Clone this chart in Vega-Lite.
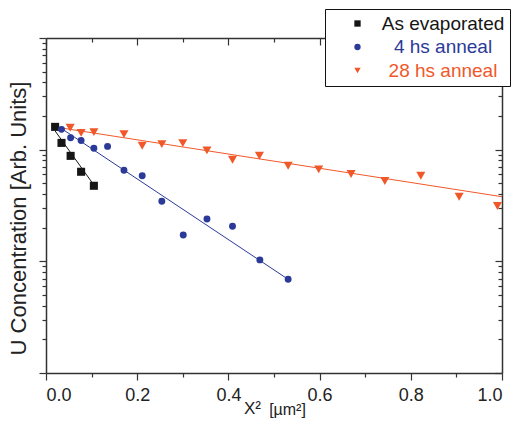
{
  "$schema": "https://vega.github.io/schema/vega-lite/v6.json",
  "width": 456,
  "height": 335,
  "autosize": {"type": "none"},
  "padding": {"left": 46, "top": 38, "right": 18, "bottom": 59},
  "background": "white",
  "config": {
    "view": {"stroke": null},
    "font": "Liberation Sans",
    "axis": {"grid": false, "domainColor": "#333333", "domainWidth": 1.5, "tickColor": "#333333", "tickWidth": 1.2, "labelFont": "Liberation Sans", "titleFont": "Liberation Sans", "labelColor": "#222222", "titleColor": "#222222", "titleFontWeight": "normal"}
  },
  "data": {
    "values": [
      {"series": "As evaporated", "kind": "pt", "x": 0.020, "y": 160},
      {"series": "As evaporated", "kind": "pt", "x": 0.034, "y": 115},
      {"series": "As evaporated", "kind": "pt", "x": 0.054, "y": 88},
      {"series": "As evaporated", "kind": "pt", "x": 0.077, "y": 63.4},
      {"series": "As evaporated", "kind": "pt", "x": 0.105, "y": 47.5},
      {"series": "As evaporated", "kind": "fit", "x": 0.020, "y": 147},
      {"series": "As evaporated", "kind": "fit", "x": 0.105, "y": 48.2},
      {"series": "4 hs anneal", "kind": "pt", "x": 0.034, "y": 152},
      {"series": "4 hs anneal", "kind": "pt", "x": 0.054, "y": 128},
      {"series": "4 hs anneal", "kind": "pt", "x": 0.077, "y": 121},
      {"series": "4 hs anneal", "kind": "pt", "x": 0.105, "y": 103},
      {"series": "4 hs anneal", "kind": "pt", "x": 0.135, "y": 107},
      {"series": "4 hs anneal", "kind": "pt", "x": 0.171, "y": 65.3},
      {"series": "4 hs anneal", "kind": "pt", "x": 0.211, "y": 58.4},
      {"series": "4 hs anneal", "kind": "pt", "x": 0.254, "y": 34.5},
      {"series": "4 hs anneal", "kind": "pt", "x": 0.301, "y": 17.2},
      {"series": "4 hs anneal", "kind": "pt", "x": 0.353, "y": 23.9},
      {"series": "4 hs anneal", "kind": "pt", "x": 0.409, "y": 20.6},
      {"series": "4 hs anneal", "kind": "pt", "x": 0.469, "y": 10.3},
      {"series": "4 hs anneal", "kind": "pt", "x": 0.531, "y": 6.9},
      {"series": "4 hs anneal", "kind": "fit", "x": 0.034, "y": 154.5},
      {"series": "4 hs anneal", "kind": "fit", "x": 0.531, "y": 6.9},
      {"series": "28 hs anneal", "kind": "pt", "x": 0.053, "y": 157},
      {"series": "28 hs anneal", "kind": "pt", "x": 0.077, "y": 141.6},
      {"series": "28 hs anneal", "kind": "pt", "x": 0.105, "y": 143.8},
      {"series": "28 hs anneal", "kind": "pt", "x": 0.171, "y": 138},
      {"series": "28 hs anneal", "kind": "pt", "x": 0.211, "y": 108.4},
      {"series": "28 hs anneal", "kind": "pt", "x": 0.254, "y": 112.2},
      {"series": "28 hs anneal", "kind": "pt", "x": 0.300, "y": 114.6},
      {"series": "28 hs anneal", "kind": "pt", "x": 0.353, "y": 98.6},
      {"series": "28 hs anneal", "kind": "pt", "x": 0.409, "y": 81.3},
      {"series": "28 hs anneal", "kind": "pt", "x": 0.468, "y": 88.2},
      {"series": "28 hs anneal", "kind": "pt", "x": 0.531, "y": 71.8},
      {"series": "28 hs anneal", "kind": "pt", "x": 0.598, "y": 66.6},
      {"series": "28 hs anneal", "kind": "pt", "x": 0.669, "y": 60.5},
      {"series": "28 hs anneal", "kind": "pt", "x": 0.743, "y": 52.4},
      {"series": "28 hs anneal", "kind": "pt", "x": 0.822, "y": 58.4},
      {"series": "28 hs anneal", "kind": "pt", "x": 0.906, "y": 37.9},
      {"series": "28 hs anneal", "kind": "pt", "x": 0.990, "y": 31.3},
      {"series": "28 hs anneal", "kind": "fit", "x": 0.031, "y": 157},
      {"series": "28 hs anneal", "kind": "fit", "x": 1.0, "y": 37.9}
    ]
  },
  "resolve": {"axis": {"x": "independent", "y": "independent"}},
  "layer": [
    {
      "transform": [{"filter": "datum.kind == 'fit'"}],
      "mark": {"type": "line", "strokeWidth": 1},
      "encoding": {
        "x": {"field": "x", "type": "quantitative", "scale": {"domain": [0, 1], "nice": false, "zero": false},
          "axis": {"orient": "bottom", "values": [0.1, 0.3, 0.5, 0.7, 0.9], "labels": false, "domain": false, "tickSize": 4, "title": "[µm²]", "titleFontSize": 16, "titleX": 241, "titleY": 41, "titleAlign": "center", "titleBaseline": "alphabetic"}},
        "y": {"field": "y", "type": "quantitative", "scale": {"type": "log", "domain": [1, 1000], "nice": false},
          "axis": {"orient": "left", "values": [2, 3, 4, 5, 6, 7, 8, 9, 20, 30, 40, 50, 60, 70, 80, 90, 200, 300, 400, 500, 600, 700, 800, 900], "labels": false, "domain": false, "tickSize": 4, "title": null}},
        "stroke": {"field": "series", "type": "nominal", "legend": null,
          "scale": {"domain": ["28 hs anneal", "As evaporated", "4 hs anneal"], "range": ["#f0582a", "#151515", "#2b3a98"]}},
        "detail": {"field": "series"}
      }
    },
    {
      "transform": [{"filter": "datum.kind == 'fit'"}],
      "mark": {"type": "point", "opacity": 0},
      "encoding": {
        "x": {"field": "x", "type": "quantitative",
          "axis": {"orient": "top", "ticks": false, "labels": false, "domain": true, "title": null}},
        "y": {"field": "y", "type": "quantitative",
          "axis": {"orient": "right", "ticks": false, "labels": false, "domain": true, "title": null}}
      }
    },
    {
      "transform": [{"filter": "datum.kind == 'fit'"}],
      "mark": {"type": "point", "opacity": 0},
      "encoding": {
        "x": {"field": "x", "type": "quantitative",
          "axis": {"orient": "top", "values": [0, 0.2, 0.4, 0.6, 0.8, 1.0], "labels": false, "domain": false, "tickSize": 7, "offset": -7, "title": null}},
        "y": {"field": "y", "type": "quantitative",
          "axis": {"orient": "right", "values": [1, 10, 100, 1000], "labels": false, "domain": false, "tickSize": 7, "offset": -7, "title": null}}
      }
    },
    {
      "transform": [{"filter": "datum.kind == 'fit'"}],
      "mark": {"type": "point", "opacity": 0},
      "encoding": {
        "x": {"field": "x", "type": "quantitative",
          "axis": {"orient": "top", "values": [0.1, 0.3, 0.5, 0.7, 0.9], "labels": false, "domain": false, "tickSize": 4, "offset": -4, "title": null}},
        "y": {"field": "y", "type": "quantitative",
          "axis": {"orient": "right", "values": [2, 3, 4, 5, 6, 7, 8, 9, 20, 30, 40, 50, 60, 70, 80, 90, 200, 300, 400, 500, 600, 700, 800, 900], "labels": false, "domain": false, "tickSize": 4, "offset": -4, "title": null}}
      }
    },
    {
      "transform": [{"filter": "datum.kind == 'pt'"}],
      "mark": {"type": "point", "filled": true, "opacity": 1},
      "encoding": {
        "x": {"field": "x", "type": "quantitative",
          "axis": {"orient": "bottom", "values": [0, 0.2, 0.4, 0.6, 0.8, 1.0], "format": ".1f", "labelFontSize": 18, "labelPadding": 6, "tickSize": 7, "title": "X²", "titleFontSize": 17, "titleX": 206, "titleY": 40, "titleAlign": "center", "titleBaseline": "alphabetic"}},
        "y": {"field": "y", "type": "quantitative",
          "axis": {"orient": "left", "values": [1, 10, 100, 1000], "labels": false, "tickSize": 7, "title": "U Concentration [Arb. Units]", "titleFontSize": 22, "titlePadding": 8, "titleY": 180}},
        "color": {"field": "series", "type": "nominal",
          "scale": {"domain": ["As evaporated", "4 hs anneal", "28 hs anneal"], "range": ["#151515", "#2b3a98", "#f0582a"]},
          "legend": {"title": null, "orient": "none", "legendX": 279, "legendY": -29, "zindex": 2, "padding": 5, "strokeColor": "#111111", "fillColor": "white", "symbolSize": 40, "symbolStrokeWidth": 0, "symbolOffset": 18, "labelOffset": 76, "labelAlign": "center", "labelFontSize": 19, "labelFont": "Liberation Sans", "rowPadding": 3.5,
            "labelColor": {"expr": "scale('color', datum.value)"}}},
        "shape": {"field": "series", "type": "nominal",
          "scale": {"domain": ["As evaporated", "4 hs anneal", "28 hs anneal"], "range": ["square", "circle", "triangle-down"]}},
        "size": {"field": "series", "type": "nominal",
          "scale": {"domain": ["28 hs anneal", "As evaporated", "4 hs anneal"], "range": [82, 48, 54]},
          "legend": {"title": null, "orient": "none", "legendX": 281, "legendY": -26, "zindex": 1, "padding": 5, "strokeColor": "#111111", "fillColor": "#111111", "symbolSize": 40, "symbolOpacity": 0, "symbolStrokeWidth": 0, "symbolOffset": 18, "labelOffset": 76, "labelAlign": "center", "labelFontSize": 19, "labelFont": "Liberation Sans", "labelOpacity": 0, "rowPadding": 3.5}}
      }
    }
  ]
}
